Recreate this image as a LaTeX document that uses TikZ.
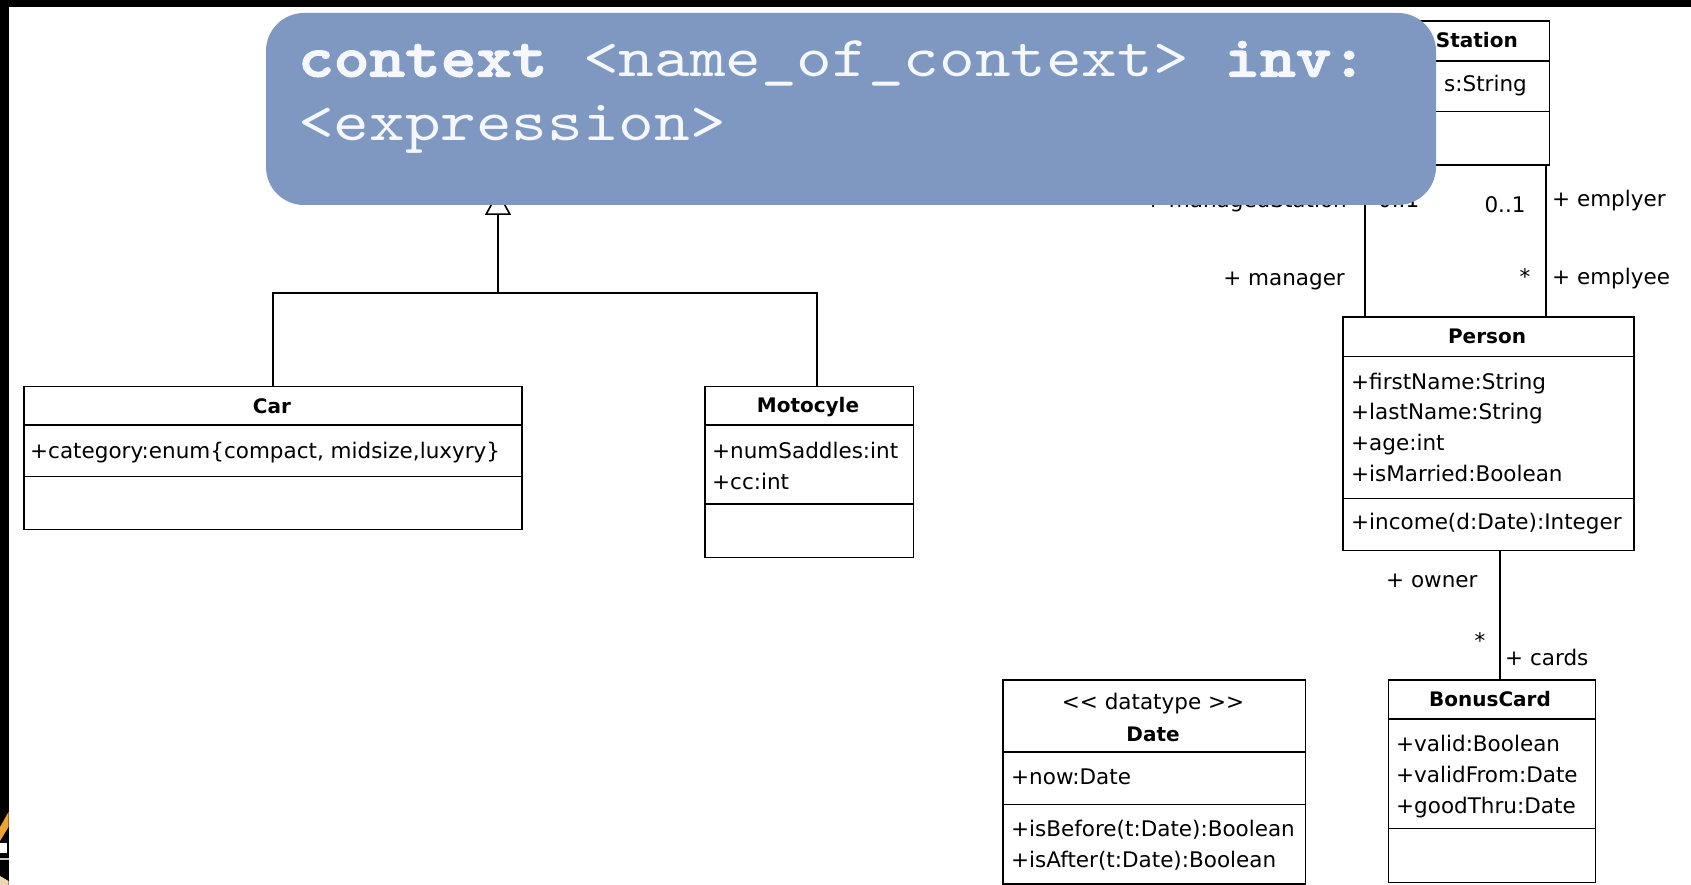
\documentclass[tikz,border=0pt]{standalone}
\usepackage{fontspec}
\newfontfamily\umlfont{DejaVu Sans}
\usetikzlibrary{calc,arrows.meta}
\definecolor{notefill}{RGB}{126,152,194}
\definecolor{notetext}{RGB}{246,247,250}
\definecolor{logoorange}{RGB}{240,162,52}
\definecolor{logobeige}{RGB}{236,214,180}

% typewriter faces for the OCL template, widened to the slide's spacing
\font\oclreg="[lmmono10-regular.otf]:extend=1.17" at 58pt
\font\oclheavy="[lmmonolt10-bold.otf]:extend=1.17;embolden=2.5" at 58pt

\begin{document}
\begin{tikzpicture}[x=1pt,y=-1pt,
  umlbox/.style={draw=black, line width=1.8pt, fill=white, rectangle, inner sep=0pt, anchor=north west},
  divider/.style={line width=1.8pt},
  assoc/.style={line width=1.8pt},
  cname/.style={font=\umlfont\bfseries\fontsize{20}{24}\selectfont, inner sep=0pt},
  member/.style={font=\umlfont\fontsize{21.5}{26}\selectfont, inner sep=0pt, anchor=base west},
  role/.style={font=\umlfont\fontsize{21.5}{26}\selectfont, inner sep=0pt},
  codeline/.style={inner sep=0pt, anchor=base west, text=notetext},
]
\useasboundingbox (0,0) rectangle (1691,885);
\fill[white] (0,0) rectangle (1691,885);

% frame strips
\fill[black] (0,0) rectangle (1691,7.5);
\fill[black] (0,0) rectangle (8.5,885);
\fill[logoorange] (0,827) -- (8.5,812) -- (8.5,827) -- (0,841) -- cycle;
\fill[white] (0,843) rectangle (7,853);
\fill[gray!45] (0,858) rectangle (8.5,860);
\fill[logobeige] (0,876) -- (8.5,881) -- (8.5,885) -- (0,885) -- cycle;

% ---------- classes ----------
\node[umlbox, minimum width=248.5pt, minimum height=143.5pt] (station) at (1300,20.5) {};
\draw[divider] ($(station.north west)+(0,40.5)$) -- ($(station.north east)+(0,40.5)$);
\draw[divider] ($(station.north west)+(0,91)$) -- ($(station.north east)+(0,91)$);
\node[cname, anchor=east] (stationname) at (1518,40.5) {Station};
\node[member] (stationattr) at (1444,92) {s:String};

\node[umlbox, minimum width=291pt, minimum height=233.5pt] (person) at (1342,316) {};
\draw[divider] ($(person.north west)+(0,40.5)$) -- ($(person.north east)+(0,40.5)$);
\draw[divider] ($(person.north west)+(0,182.5)$) -- ($(person.north east)+(0,182.5)$);
\node[cname] (personname) at (1487,336) {Person};
\node[member] (pa1) at (1351,389) {+firstName:String};
\node[member] (pa2) at (1351,419.5) {+lastName:String};
\node[member] (pa3) at (1351,450.5) {+age:int};
\node[member] (pa4) at (1351,481.5) {+isMarried:Boolean};
\node[member] (po1) at (1351,529) {+income(d:Date):Integer};

\node[umlbox, minimum width=207pt, minimum height=202.5pt] (bonus) at (1387.5,679) {};
\draw[divider] ($(bonus.north west)+(0,40)$) -- ($(bonus.north east)+(0,40)$);
\draw[divider] ($(bonus.north west)+(0,149.5)$) -- ($(bonus.north east)+(0,149.5)$);
\node[cname] (bonusname) at (1490,699) {BonusCard};
\node[member] (ba1) at (1396,751.5) {+valid:Boolean};
\node[member] (ba2) at (1396,782.5) {+validFrom:Date};
\node[member] (ba3) at (1396,813.5) {+goodThru:Date};

\node[umlbox, minimum width=302.5pt, minimum height=204pt] (date) at (1002,679) {};
\draw[divider] ($(date.north west)+(0,73)$) -- ($(date.north east)+(0,73)$);
\draw[divider] ($(date.north west)+(0,125.5)$) -- ($(date.north east)+(0,125.5)$);
\node[role] (datestereo) at (1153,703.5) {<< datatype >>};
\node[cname] (datename) at (1153,734) {Date};
\node[member] (da1) at (1011,784.5) {+now:Date};
\node[member] (do1) at (1011,836) {+isBefore(t:Date):Boolean};
\node[member] (do2) at (1011,867) {+isAfter(t:Date):Boolean};

\node[umlbox, minimum width=498pt, minimum height=143pt] (car) at (23,385.5) {};
\draw[divider] ($(car.north west)+(0,39.5)$) -- ($(car.north east)+(0,39.5)$);
\draw[divider] ($(car.north west)+(0,91)$) -- ($(car.north east)+(0,91)$);
\node[cname] (carname) at (272,406.5) {Car};
\node[member] (ca1) at (30,458) {+category:enum\{compact, midsize,luxyry\}};

\node[umlbox, minimum width=208.5pt, minimum height=171pt] (moto) at (704,385.5) {};
\draw[divider] ($(moto.north west)+(0,39.5)$) -- ($(moto.north east)+(0,39.5)$);
\draw[divider] ($(moto.north west)+(0,118.5)$) -- ($(moto.north east)+(0,118.5)$);
\node[cname] (motoname) at (808,407.5) {Motocyle};
\node[member] (ma1) at (712,458) {+numSaddles:int};
\node[member] (ma2) at (712,489.5) {+cc:int};

% ---------- associations ----------
\coordinate (mgrx) at (1365,0);
\coordinate (empx) at (1546,0);
\coordinate (ownx) at (1500,0);
\draw[assoc] (station.south -| mgrx) -- (person.north -| mgrx);
\draw[assoc] (station.south -| empx) -- (person.north -| empx);
\draw[assoc] (person.south -| ownx) -- (bonus.north -| ownx);

\node[role, anchor=base east] (lmanaged) at (1347,208) {+ managedStation};
\node[role, anchor=base west] (lmult1) at (1378,208) {0..1};
\node[role, anchor=base] (lmult2) at (1505,212.5) {0..1};
\node[role, anchor=base west] (lemployer) at (1552,207) {+ emplyer};
\node[role, anchor=base] (lmult3) at (1525,284) {*};
\node[role, anchor=base west] (lemployee) at (1552,284.5) {+ emplyee};
\node[role, anchor=base east] (lmanager) at (1345,285.5) {+ manager};
\node[role, anchor=base west] (lowner) at (1386,587) {+ owner};
\node[role, anchor=base] (lmult4) at (1480,648) {*};
\node[role, anchor=base west] (lcards) at (1505,665.5) {+ cards};

% ---------- generalization ----------
\coordinate (gsuper) at (498,191);
\coordinate (gjoin) at (498,293);
\coordinate (motox) at (817,0);
\draw[assoc] (car.north) -- (car.north |- gjoin) -- (motox |- gjoin) -- (motox |- moto.north);
\draw[assoc, -{Triangle[open, length=24pt, width=26pt, line width=1.6pt]}] (gjoin) -- (gsuper);

% ---------- OCL note ----------
\fill[notefill, rounded corners=38pt] (266,13) rectangle (1436,205);
\node[codeline] (oclA) at (298,76.5) {\oclheavy context\oclreg{} <name\_of\_context> \oclheavy inv:};
\node[codeline] (oclB) at (298,141) {\oclreg <expression>};
\end{tikzpicture}
\end{document}
